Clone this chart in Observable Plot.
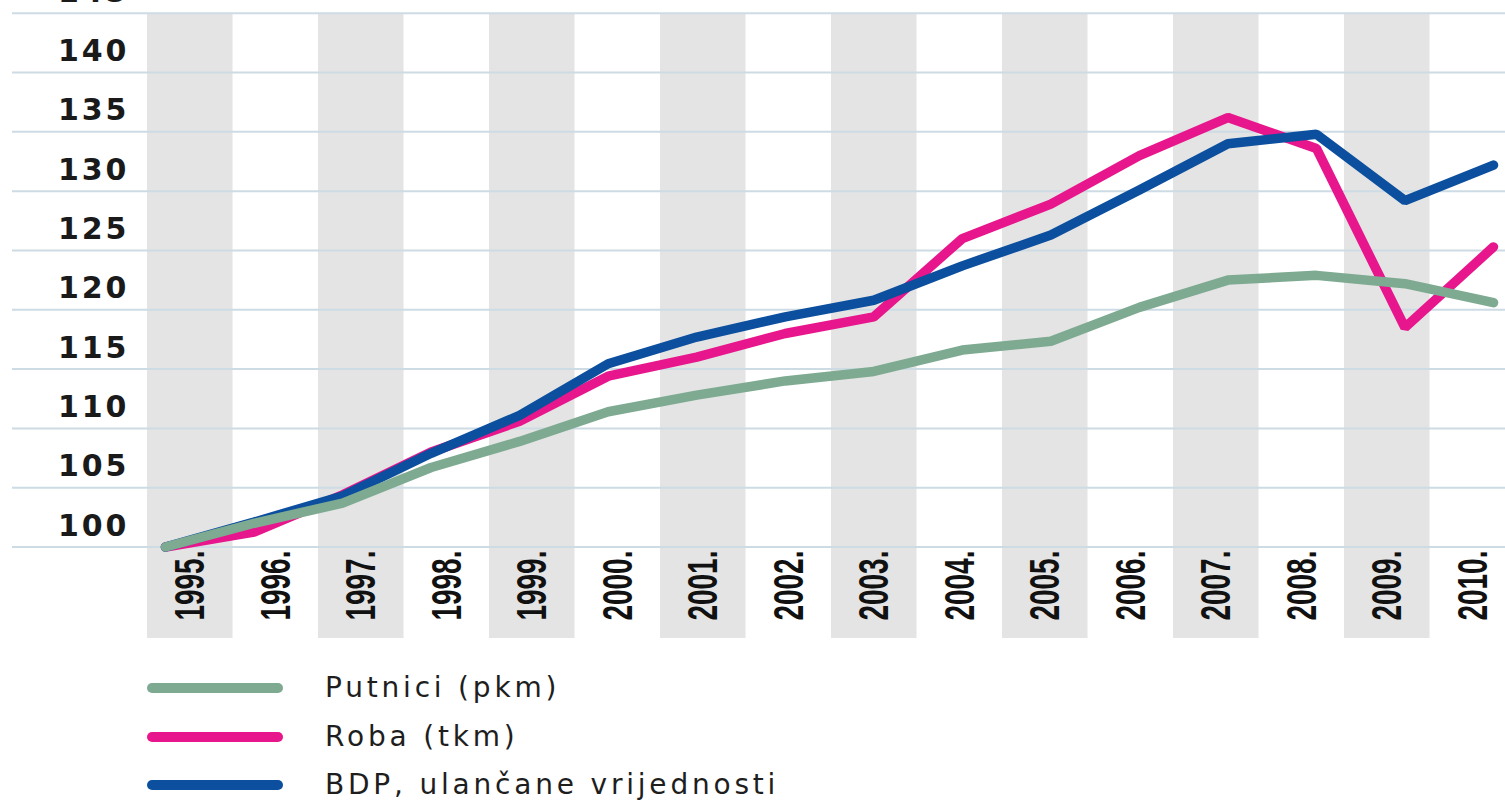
<!DOCTYPE html>
<html>
<head>
<meta charset="utf-8">
<script src="https://cdn.jsdelivr.net/npm/d3@7"></script>
<script src="https://cdn.jsdelivr.net/npm/@observablehq/plot@0.6"></script>
<style>
  html, body { margin: 0; padding: 0; background: #fff; }
  #wrap { position: relative; width: 1505px; height: 802px; overflow: hidden; }
  #wrap > svg, #wrap > figure { position: absolute; left: 0; top: 0; margin: 0; }
  #legend { position: absolute; left: 0; top: 650px; width: 1505px; }
  .row { position: absolute; left: 0; width: 1000px; }
  .row svg { position: absolute; left: 0; top: 0; }
  .row span { position: absolute; left: 325px; top: 50%; transform: translateY(-50%);
    font-family: "DejaVu Sans", sans-serif; font-size: 28px; letter-spacing: 3.8px; color: #1e1e1e; white-space: nowrap; line-height: 1.3; }
</style>
</head>
<body>
<div id="wrap"><div id="legend"></div></div>
<script>
// ---- data ----
const years = [1995, 1996, 1997, 1998, 1999, 2000, 2001, 2002, 2003, 2004, 2005, 2006, 2007, 2008, 2009, 2010];
const yTicks = [100, 105, 110, 115, 120, 125, 130, 135, 140, 145];
const seriesNames = ["Putnici (pkm)", "Roba (tkm)", "BDP, ulančane vrijednosti"];
const seriesColors = ["#7daa91", "#e8168c", "#0b4f9e"];
const putnici = [100, 102.0, 103.7, 106.7, 108.9, 111.4, 112.8, 114.0, 114.8, 116.6, 117.35, 120.2, 122.5, 122.9, 122.2, 120.6];
const roba    = [100, 101.25, 104.4, 108.0, 110.6, 114.4, 116.0, 118.0, 119.4, 126.0, 128.9, 133.0, 136.2, 133.6, 118.5, 125.3];
const bdp     = [100, 102.1, 104.3, 107.9, 111.1, 115.45, 117.7, 119.4, 120.8, 123.7, 126.3, 130.1, 134.0, 134.8, 129.2, 132.2];

// long table for the line mark (drawing order: Roba, BDP, Putnici on top)
const drawOrder = [1, 2, 0];
const valuesBySeries = [putnici, roba, bdp];
const table = [];
for (const s of drawOrder) {
  years.forEach((yr, i) => table.push({year: yr, value: valuesBySeries[s][i], series: seriesNames[s]}));
}

const W = 1505, H = 650;
const yScale = {domain: [100, 145], range: [546.5, 12.7], axis: null};

// ---- background: bands, gridlines, axis labels ----
const bg = Plot.plot({
  width: W, height: H,
  marginLeft: 12, marginRight: 0, marginTop: 13, marginBottom: 12,
  x: {type: "band", domain: years, range: [147, 1515], padding: 0, round: false, axis: null},
  y: yScale,
  marks: [
    Plot.cell(years.filter((d, i) => i % 2 === 0), {x: d => d, fill: "#e4e4e4", inset: 0}),
    Plot.ruleY(yTicks, {stroke: "#cddbe4", strokeWidth: 2}),
    Plot.text(yTicks, {
      y: d => d, text: d => String(d), frameAnchor: "left", dx: 117, dy: -21,
      textAnchor: "end", fontSize: 30, fontWeight: "bold", fontFamily: "DejaVu Sans", fill: "#1a1a1a"
    }),
    Plot.text(years, {
      x: d => d, text: d => d + ".", frameAnchor: "bottom", dy: -18, rotate: -90,
      textAnchor: "start", lineAnchor: "middle", fontSize: 43, fontWeight: "bold",
      fontFamily: "Liberation Sans", fill: "#111"
    })
  ]
});
// condense the rotated year labels along their length; letter-space the value labels
bg.querySelectorAll("text").forEach(t => {
  const tr = t.getAttribute("transform");
  if (tr && tr.includes("rotate(-90)")) t.setAttribute("transform", tr + " scale(0.65,1)");
});
bg.querySelectorAll("g[font-family='DejaVu Sans'] text, text[font-family='DejaVu Sans']").forEach(t => {
  t.style.letterSpacing = "3px";
});

// ---- foreground: the three lines ----
const fg = Plot.plot({
  width: W, height: H,
  marginLeft: 0, marginRight: 0, marginTop: 13, marginBottom: 12,
  style: {background: "transparent"},
  x: {domain: [years[0], years[years.length - 1]], range: [165, 1493], axis: null},
  y: yScale,
  color: {domain: seriesNames, range: seriesColors},
  marks: [
    Plot.line(table, {
      x: "year", y: "value", z: "series", stroke: "series",
      strokeWidth: 9.5, strokeLinecap: "round", strokeLinejoin: "miter"
    })
  ]
});

const wrap = document.getElementById("wrap");
wrap.insertBefore(fg, wrap.firstChild);
wrap.insertBefore(bg, wrap.firstChild);

// ---- legend ----
const legend = document.getElementById("legend");
const rowY = [38, 87, 135];
seriesNames.forEach((name, i) => {
  const row = document.createElement("div");
  row.className = "row";
  row.style.top = (rowY[i] - 22) + "px";
  row.style.height = "44px";
  row.innerHTML = `<svg width="300" height="44"><line x1="152" x2="278" y1="22" y2="22" stroke="${seriesColors[i]}" stroke-width="10" stroke-linecap="round"/></svg><span>${name}</span>`;
  legend.appendChild(row);
});
</script>
</body>
</html>
